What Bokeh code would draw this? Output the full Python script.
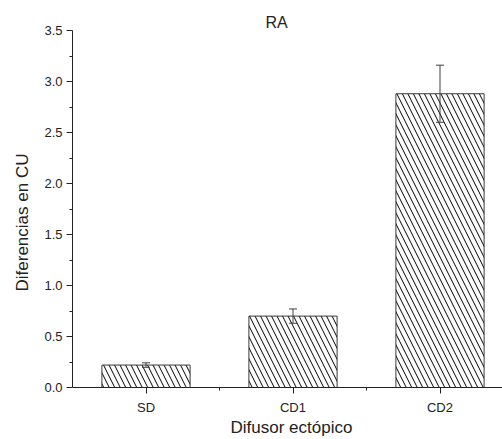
from bokeh.plotting import figure
from bokeh.models import (ColumnDataSource, FixedTicker, Range1d, Whisker, TeeHead,
                          Title, NumeralTickFormatter)
from bokeh.embed import file_html
from bokeh.resources import INLINE

categories = ["SD", "CD1", "CD2"]
values = [0.22, 0.70, 2.88]
errors = [0.022, 0.07, 0.28]
positions = [1, 2, 3]
y_ticks = [0.0, 0.5, 1.0, 1.5, 2.0, 2.5, 3.0, 3.5]
y_minor = [0.25, 0.75, 1.25, 1.75, 2.25, 2.75, 3.25]

FONT = "Liberation Sans"

src = ColumnDataSource(data=dict(
    x=positions,
    top=values,
    upper=[v + e for v, e in zip(values, errors)],
    lower=[v - e for v, e in zip(values, errors)],
))

W, H = 502, 439
LEFT, TOP, BOTTOM = 72, 30, 387
p = figure(width=W, height=H, output_backend="svg", toolbar_location=None,
           x_range=Range1d(0.5, 0.5 + (W - LEFT) / 147.0), y_range=Range1d(0, 3.5),
           min_border_left=LEFT, min_border_right=0, min_border_top=TOP,
           min_border_bottom=H - BOTTOM)
p.outline_line_color = None
p.xgrid.visible = False
p.ygrid.visible = False
p.background_fill_color = "white"
p.border_fill_color = "white"

p.vbar(x="x", top="top", width=0.6, bottom=0, source=src,
       fill_color="white", line_color="#3a3a3a", line_width=1,
       hatch_pattern="\\", hatch_color="black", hatch_scale=11, hatch_weight=1)

w = Whisker(base="x", upper="upper", lower="lower", source=src,
            line_color="#404040", line_width=1, level="overlay",
            upper_head=TeeHead(size=8, line_color="#404040", line_width=1),
            lower_head=TeeHead(size=8, line_color="#404040", line_width=1))
p.add_layout(w)

# y axis
ya = p.yaxis[0]
ya.ticker = FixedTicker(ticks=y_ticks, minor_ticks=y_minor)
ya.formatter = NumeralTickFormatter(format="0.0")
ya.major_tick_out = 6
ya.major_tick_in = 0
ya.minor_tick_out = 3
ya.minor_tick_in = 0
ya.axis_line_color = "#222222"
ya.major_tick_line_color = "#222222"
ya.minor_tick_line_color = "#222222"
ya.major_label_text_font = FONT
ya.major_label_text_font_size = "13px"
ya.major_label_text_color = "#222222"
ya.major_label_standoff = 4

# x axis
xa = p.xaxis[0]
xa.ticker = FixedTicker(ticks=positions, minor_ticks=[1.5, 2.5, 3.5])
xa.major_label_overrides = {pos: cat for pos, cat in zip(positions, categories)}
xa.major_tick_out = 6
xa.major_tick_in = 0
xa.minor_tick_out = 3
xa.minor_tick_in = 0
xa.axis_line_color = "#222222"
xa.major_tick_line_color = "#222222"
xa.minor_tick_line_color = "#222222"
xa.major_label_text_font = FONT
xa.major_label_text_font_size = "13px"
xa.major_label_text_color = "#222222"
xa.major_label_standoff = 6

xtitle = Title(text="Difusor ectópico", align="left", offset=158,
               vertical_align="top", standoff=0, text_font=FONT,
               text_font_size="17px", text_font_style="normal", text_color="#222222")
p.add_layout(xtitle, "below")

ytitle = Title(text="Diferencias en CU", align="left", offset=96,
               vertical_align="bottom", standoff=20, text_font=FONT,
               text_font_size="17px", text_font_style="normal", text_color="#222222")
p.add_layout(ytitle, "left")

t = Title(text="RA", align="left", offset=193, text_font=FONT,
          text_font_size="16px", text_font_style="normal", text_color="#222222",
          standoff=0)
p.add_layout(t, "above")

open("out.html", "w").write(file_html(p, INLINE))
